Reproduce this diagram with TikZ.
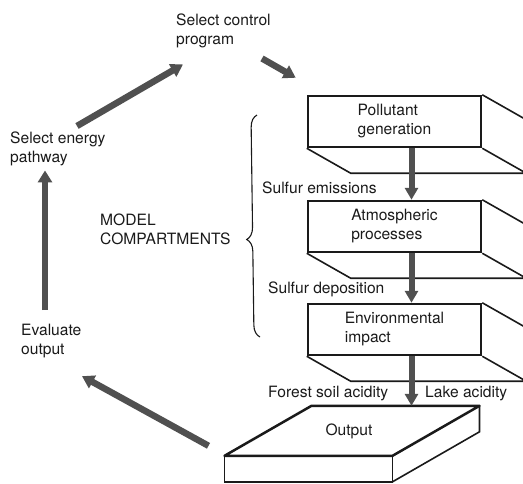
\documentclass[tikz,border=0pt]{standalone}
\usepackage{fontspec}
\setmainfont{TeX Gyre Heros}
\usetikzlibrary{arrows.meta,calc,positioning,decorations.pathreplacing}
\definecolor{ink}{HTML}{1A1A1A}
\definecolor{shaft}{HTML}{505050}

\begin{document}
\begin{tikzpicture}[x=1pt,y=-1pt,
	font=\fontsize{15.6}{19}\selectfont, text=ink,
	lbl/.style={inner sep=0pt,anchor=north west,align=left},
	comp/.style={draw=ink,line width=2.5pt,minimum width=173pt,minimum height=51pt,align=left,inner sep=0pt},
	rim/.style={draw=ink,line width=1.6pt},
	flow/.style={draw=shaft,line width=6pt,-{Triangle[length=12pt,width=13pt]}},
	cycarrow/.style={draw=shaft,line width=6.5pt,-{Triangle[length=12pt,width=14pt]}}]

	\useasboundingbox (0,0) rectangle (523,483);
	\clip (0,0) rectangle (523,483);

	% model compartments
	\node[comp] (gen) at (394.5,121.5) {Pollutant\\generation};
	\node[comp] (atmos) at (394.5,226.5) {Atmospheric\\processes};
	\node[comp] (impact) at (394.5,329.5) {Environmental\\impact};
	\foreach \b in {gen,atmos,impact}
		\draw[rim] (\b.north east) -- ++(44,25)
			(\b.south east) -- ++(44,25)
			(\b.south west) -- ++(44,25) -- ++(173,0);

	% output slab
	\node[inner sep=0pt,minimum width=168pt,minimum height=50pt] (out) at (349,431) {Output};
	\draw[ink,line width=2.5pt,line join=round] ($(out.north)+(-37.5,0)$) -- ++(168,0) -- ++(-87,50) -- ++(-168,0) -- cycle;
	\draw[rim] ($(out.north)+(130.5,0)$) -- ++(0,26) -- ++(-87,50);
	\draw[rim] ($(out.north)+(-124.5,50)$) -- ++(0,26) -- ++(168,0) -- ++(0,-26);

	\draw[flow] ([xshift=17pt]gen.south) -- ([xshift=17pt]atmos.north);
	\draw[flow] ([xshift=17pt]atmos.south) -- ([xshift=17pt]impact.north);
	\draw[flow] ([xshift=17pt]impact.south) -- ([xshift=17pt]impact.south |- out.north);

	\node[lbl] (emis) at (262,182) {Sulfur emissions};
	\node[lbl] (depo) at (268,282) {Sulfur deposition};
	\node[lbl] (soil) at (268,386) {Forest soil acidity};
	\node[lbl] (lake) at (425,386) {Lake acidity};

	% decision loop
	\node[lbl] (ctrl) at (176,14) {Select control\\program};
	\node[lbl] (energy) at (10,132) {Select energy\\pathway};
	\node[lbl] (evalout) at (21,324) {Evaluate\\output};
	\node[lbl] (model) at (100,214) {MODEL\\COMPARTMENTS};

	\draw[ink,line width=1.1pt,decorate,decoration={brace,amplitude=12pt,aspect=0.44}] (260,337) -- (257,115);

	\draw[cycarrow] ($(energy.north west)+(67,-6)$) -- ($(ctrl.south west)+(7,16)$);
	\draw[cycarrow] ($(ctrl.south west)+(86,10)$) -- ($(gen.north west)+(-11,-17)$);
	\draw[cycarrow] ($(evalout.north west)+(24,-14)$) -- ($(energy.south west)+(35,4)$);
	\draw[cycarrow] ($(out.north)+(-140.5,40)$) -- ($(evalout.south west)+(61,18)$);
\end{tikzpicture}
\end{document}
